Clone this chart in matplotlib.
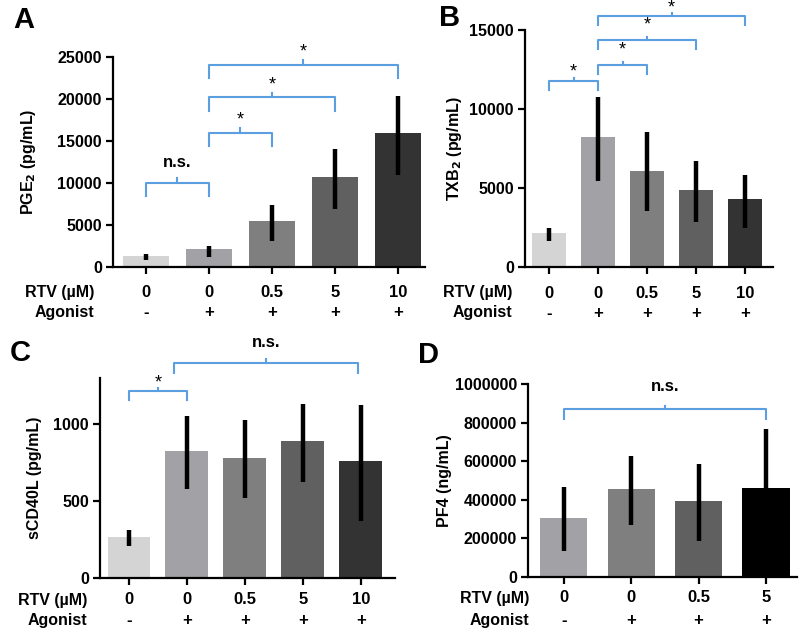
import numpy as np
import matplotlib
matplotlib.use("Agg")
import matplotlib.pyplot as plt
from matplotlib.ticker import FixedFormatter

plt.rcParams['font.family'] = ['Liberation Sans', 'DejaVu Sans']
plt.rcParams['font.weight'] = 'bold'

W, H = 800, 630

# ---- data ----
rtv_5 = ['0', '0', '0.5', '5', '10']
agonist_5 = ['-', '+', '+', '+', '+']
rtv_4 = ['0', '0', '0.5', '5']
agonist_4 = ['-', '+', '+', '+']

pge2_mean = [1300, 2150, 5450, 10700, 15900]
pge2_lo = [850, 1200, 3150, 6950, 11000]
pge2_hi = [1550, 2500, 7400, 14100, 20400]

txb2_mean = [2170, 8250, 6100, 4890, 4280]
txb2_lo = [1660, 5440, 3560, 2870, 2490]
txb2_hi = [2490, 10780, 8520, 6730, 5820]

cd40_mean = [268, 826, 781, 891, 758]
cd40_lo = [205, 578, 517, 625, 372]
cd40_hi = [312, 1054, 1026, 1134, 1123]

pf4_mean = [306000, 456000, 392000, 461000]
pf4_lo = [136000, 267000, 188000, 155000]
pf4_hi = [466000, 628000, 585000, 767000]

grays5 = ['#d4d4d4', '#a1a1a6', '#7f7f7f', '#606060', '#333333']
grays4 = ['#a1a1a6', '#7f7f7f', '#606060', '#000000']
blue = '#5b9fe0'

fig = plt.figure(figsize=(8, 6.3), dpi=100)


def px_axes(left, right, top, bottom):
    return fig.add_axes([left / W, 1 - bottom / H, (right - left) / W, (bottom - top) / H])


def fig_text(x, y, s, **kw):
    fig.text(x / W, 1 - y / H, s, **kw)


def bar_panel(ax, means, lo, hi, colors, width, xlim, ylim, yticks):
    x = np.arange(len(means))
    means = np.array(means)
    err = [means - np.array(lo), np.array(hi) - means]
    ax.bar(x, means, width=width, color=colors, edgecolor='none', zorder=1)
    ax.errorbar(x, means, yerr=err, fmt='none', ecolor='black', elinewidth=3.2,
                capsize=0, zorder=2)
    ax.set_xlim(*xlim)
    ax.set_ylim(*ylim)
    ax.set_yticks(yticks)
    ax.yaxis.set_major_formatter(FixedFormatter([str(t) for t in yticks]))
    ax.set_xticks(x)
    ax.set_xticklabels([])
    for s in ['top', 'right']:
        ax.spines[s].set_visible(False)
    for s in ['left', 'bottom']:
        ax.spines[s].set_linewidth(1.6)
    ax.tick_params(axis='both', width=1.6, length=5, labelsize=11.5)
    ax.tick_params(axis='y', pad=3)
    for lab in ax.get_yticklabels():
        lab.set_fontweight('bold')


def cat_labels(ax, rtv, ago, off1, off2, lab_x, bottom_px):
    for i in range(len(rtv)):
        ax.annotate(rtv[i], xy=(i, 0), xycoords=('data', 'axes fraction'),
                    xytext=(0, -off1), textcoords='offset pixels',
                    ha='center', va='center', fontsize=12, fontweight='bold')
        ax.annotate(ago[i], xy=(i, 0), xycoords=('data', 'axes fraction'),
                    xytext=(0, -off2), textcoords='offset pixels',
                    ha='center', va='center', fontsize=12, fontweight='bold')
    fig_text(lab_x, bottom_px + off1, 'RTV (\u00b5M)', ha='right', va='center',
             fontsize=11.5, fontweight='bold')
    fig_text(lab_x, bottom_px + off2, 'Agonist', ha='right', va='center',
             fontsize=11.5, fontweight='bold')


def bracket(ax, x1, x2, y, leg, label, text_y, fs=13):
    ax.plot([x1, x1, x2, x2], [y - leg, y, y, y - leg], color=blue, lw=1.5,
            clip_on=False, zorder=3)
    xm = (x1 + x2) / 2
    ax.plot([xm, xm], [y, y + leg * 0.35], color=blue, lw=1.5, clip_on=False, zorder=3)
    ax.text(xm, text_y, label, ha='center', va='center', fontsize=fs,
            fontweight='bold' if label == 'n.s.' else 'normal', clip_on=False)


# ---- A ----
axA = px_axes(113, 425, 57, 267)
bar_panel(axA, pge2_mean, pge2_lo, pge2_hi, grays5, 0.73, (-0.52, 4.43), (0, 25000),
          [0, 5000, 10000, 15000, 20000, 25000])
cat_labels(axA, rtv_5, agonist_5, 25, 45, 94, 267)
axA.set_ylabel('PGE$_2$ (pg/mL)', fontsize=11.5, fontweight='bold')
axA.yaxis.set_label_coords((38 - 113) / 312, 0.5)
bracket(axA, 0, 1, 10000, 1600, 'n.s.', 12500, fs=12)
bracket(axA, 1, 2, 16000, 1600, '*', 17500)
bracket(axA, 1, 3, 20200, 1600, '*', 21700)
bracket(axA, 1, 4, 24100, 1600, '*', 25600)
fig_text(24, 20, 'A', ha='center', va='center', fontsize=21, fontweight='bold')

# ---- B ----
axB = px_axes(525, 773, 30, 267)
bar_panel(axB, txb2_mean, txb2_lo, txb2_hi, grays5, 0.71, (-0.49, 4.57), (0, 15000),
          [0, 5000, 10000, 15000])
cat_labels(axB, rtv_5, agonist_5, 26, 46, 512, 267)
axB.set_ylabel('TXB$_2$ (pg/mL)', fontsize=11.5, fontweight='bold')
axB.yaxis.set_label_coords((464 - 525) / 248, 0.5)
bracket(axB, 0, 1, 11770, 570, '*', 12350)
bracket(axB, 1, 2, 12780, 570, '*', 13720)
bracket(axB, 1, 3, 14370, 570, '*', 15320)
bracket(axB, 1, 4, 15880, 570, '*', 16420)
fig_text(450, 18, 'B', ha='center', va='center', fontsize=21, fontweight='bold')

# ---- C ----
axC = px_axes(100, 395, 378, 578)
bar_panel(axC, cd40_mean, cd40_lo, cd40_hi, grays5, 0.74, (-0.5, 4.59), (0, 1300),
          [0, 500, 1000])
cat_labels(axC, rtv_5, agonist_5, 22, 42, 87, 578)
axC.set_ylabel('sCD40L (pg/mL)', fontsize=11.5, fontweight='bold')
axC.yaxis.set_label_coords((42 - 100) / 295, 0.5)
bracket(axC, 0, 1, 1216, 60, '*', 1268)
bracket(axC, 0.78, 3.95, 1398, 68, 'n.s.', 1530, fs=12)
fig_text(20, 353, 'C', ha='center', va='center', fontsize=21, fontweight='bold')

# ---- D ----
axD = px_axes(528, 797, 384, 577)
bar_panel(axD, pf4_mean, pf4_lo, pf4_hi, grays4, 0.70, (-0.53, 3.46), (0, 1000000),
          [0, 200000, 400000, 600000, 800000, 1000000])
cat_labels(axD, rtv_4, agonist_4, 21, 43, 529, 577)
axD.set_ylabel('PF4 (ng/mL)', fontsize=11.5, fontweight='bold')
axD.yaxis.set_label_coords((452 - 528) / 269, 0.5)
bracket(axD, 0, 3, 870000, 52000, 'n.s.', 987000, fs=12)
fig_text(428, 355, 'D', ha='center', va='center', fontsize=21, fontweight='bold')

fig.savefig('out.png', dpi=100)
